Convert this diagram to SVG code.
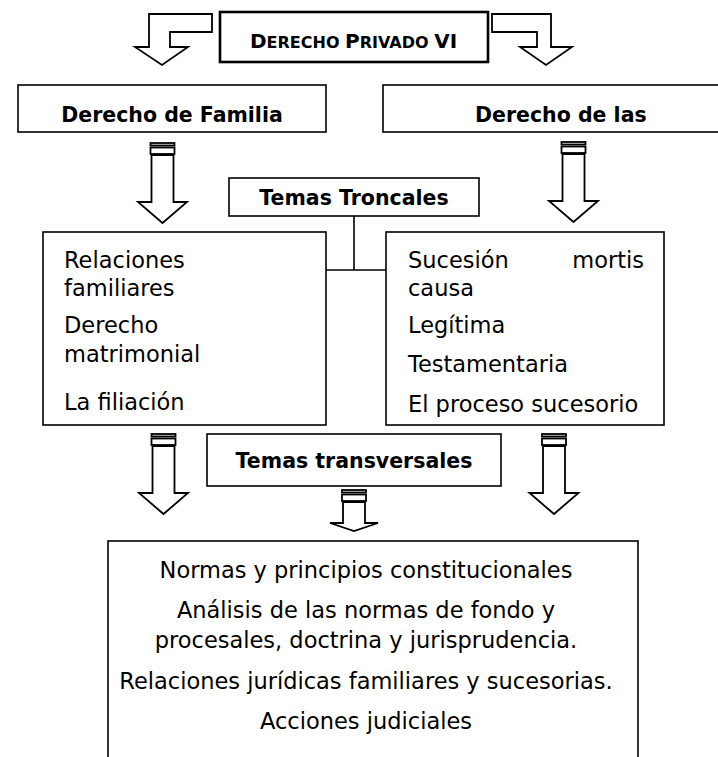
<svg xmlns="http://www.w3.org/2000/svg" xmlns:xlink="http://www.w3.org/1999/xlink" width="718" height="757" viewBox="0 0 718 757">
<style>
.box{fill:#fff;stroke:#000;stroke-width:1.6}
.tbox{fill:#fff;stroke:#000;stroke-width:2.6}
.arr{fill:#fff;stroke:#000;stroke-width:1.8;stroke-linejoin:miter}
.ln{fill:none;stroke:#000;stroke-width:1.6}
.h{font-family:"DejaVu Sans","Liberation Sans",sans-serif;font-weight:bold;font-size:20.5px;fill:#000}
.t{font-family:"DejaVu Sans","Liberation Sans",sans-serif;font-size:22.5px;fill:#000}
.c{text-anchor:middle}
</style>
<defs>
<g id="sarrow">
<rect class="arr" x="-12" y="0" width="24" height="2.5"/>
<rect class="arr" x="-12" y="4.5" width="24" height="6.5"/>
<path class="arr" d="M-11,12 H11 V59 H24.5 L0,80 L-24.5,59 H-11 Z"/>
</g>
</defs>
<rect width="718" height="757" fill="#fff"/>

<g id="connectors">
<path class="arr" d="M212,14 H149 V47 H135 L162,65 L188,47 H170 V32 H212 Z" stroke-width="2.6"/>
<path class="arr" d="M492,14 H551 V47 H572 L546,65 L520,47 H537 V32 H492 Z" stroke-width="2.6"/>
<use xlink:href="#sarrow" transform="translate(162.5,143)"/>
<use xlink:href="#sarrow" transform="translate(573.5,142)"/>
<use xlink:href="#sarrow" transform="translate(163.5,434)"/>
<use xlink:href="#sarrow" transform="translate(554,434)"/>
<g>
<rect class="arr" x="342" y="490" width="24" height="2.5"/>
<rect class="arr" x="342" y="494.5" width="24" height="6.5"/>
<path class="arr" d="M343,502 H365 V523 H378 L354,531 L330,523 H343 Z"/>
</g>
<path class="ln" d="M354,216 V270 M325,270 H386"/>
</g>

<g id="title">
<rect class="tbox" x="220" y="12" width="268" height="50"/>
<text class="h" x="250" y="48"><tspan font-size="20">D</tspan><tspan font-size="16">ERECHO </tspan><tspan font-size="20">P</tspan><tspan font-size="16">RIVADO </tspan><tspan font-size="20">VI</tspan></text>
</g>

<g id="familia">
<rect class="box" x="18" y="85" width="308" height="47"/>
<text class="h c" x="172" y="122">Derecho de Familia</text>
</g>

<g id="sucesiones">
<rect class="box" x="383" y="85" width="350" height="47"/>
<text class="h" x="475" y="122">Derecho de las</text>
</g>

<g id="troncales">
<rect class="box" x="229" y="178" width="250" height="38"/>
<text class="h c" x="354" y="205">Temas Troncales</text>
</g>

<g id="familia-temas">
<rect class="box" x="43" y="232" width="283" height="193"/>
<text class="t" x="64" y="268">Relaciones</text>
<text class="t" x="64" y="296">familiares</text>
<text class="t" x="64" y="333">Derecho</text>
<text class="t" x="64" y="362">matrimonial</text>
<text class="t" x="64" y="410">La filiación</text>
</g>

<g id="sucesiones-temas">
<rect class="box" x="386" y="232" width="278" height="193"/>
<text class="t" x="408" y="268">Sucesión</text>
<text class="t" x="644" y="268" text-anchor="end">mortis</text>
<text class="t" x="408" y="296">causa</text>
<text class="t" x="408" y="333">Legítima</text>
<text class="t" x="408" y="372">Testamentaria</text>
<text class="t" x="408" y="412">El proceso sucesorio</text>
</g>

<g id="transversales">
<rect class="box" x="207" y="434" width="294" height="52"/>
<text class="h c" x="354" y="468">Temas transversales</text>
</g>

<g id="contenidos">
<rect class="box" x="108" y="541" width="530" height="240"/>
<text class="t c" x="366" y="578">Normas y principios constitucionales</text>
<text class="t c" x="366" y="618">Análisis de las normas de fondo y</text>
<text class="t c" x="366" y="648">procesales, doctrina y jurisprudencia.</text>
<text class="t c" x="366" y="689">Relaciones jurídicas familiares y sucesorias.</text>
<text class="t c" x="366" y="729">Acciones judiciales</text>
</g>
</svg>
